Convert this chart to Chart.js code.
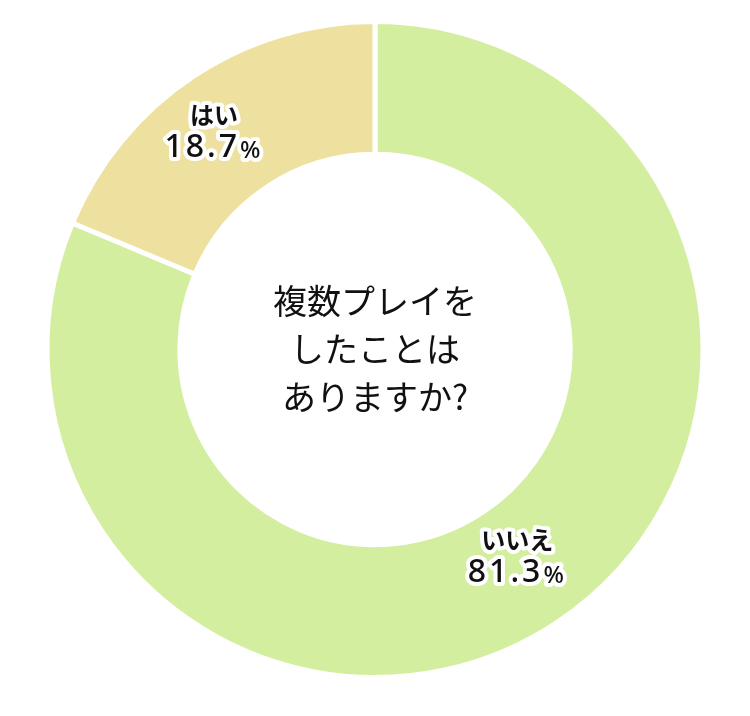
<!DOCTYPE html>
<html>
<head>
<meta charset="utf-8">
<script src="https://cdn.jsdelivr.net/npm/chart.js@4"></script>
<style>
  html, body { margin: 0; padding: 0; background: #fff; }
  #wrap { width: 750px; height: 716px; }
</style>
</head>
<body>
<div id="wrap"><canvas id="pie" width="750" height="716"></canvas></div>
<script>
// dati del grafico
const labels = ['いいえ', 'はい'];
const values = [81.3, 18.7];
const colors = ['#d3ee9f', '#eee09f'];
const centerLines = ['複数プレイを', 'したことは', 'ありますか?'];

// etichette con contorno bianco sopra ogni fetta
const sliceLabels = {
  id: 'sliceLabels',
  afterDatasetsDraw(chart) {
    const ctx = chart.ctx;
    const meta = chart.getDatasetMeta(0);
    const nudge = [[4, 0], [-16, 0]]; // piccolo spostamento per ogni etichetta
    meta.data.forEach((arc, i) => {
      const mid = (arc.startAngle + arc.endAngle) / 2;
      const r = (arc.innerRadius + arc.outerRadius) / 2 - (i === 0 ? 12 : 0);
      const x = arc.x + Math.cos(mid) * r + nudge[i][0];
      const y = arc.y + Math.sin(mid) * r + nudge[i][1];
      ctx.save();
      ctx.textBaseline = 'middle';
      ctx.lineJoin = 'round';
      ctx.strokeStyle = '#fff';
      ctx.fillStyle = '#111';
      ctx.lineWidth = 8;
      // nome
      ctx.textAlign = 'center';
      ctx.font = '700 24px "Noto Sans CJK JP"';
      ctx.strokeText(labels[i], x, y - 17);
      ctx.fillText(labels[i], x, y - 17);
      // percentuale
      ctx.letterSpacing = '3px';
      const num = values[i].toFixed(1);
      ctx.font = '500 32px "Noto Sans"';
      const wNum = ctx.measureText(num).width;
      ctx.font = '500 24px "Noto Sans"';
      const wPct = ctx.measureText('%').width;
      const x0 = x - (wNum + wPct) / 2;
      ctx.textAlign = 'left';
      ctx.font = '500 32px "Noto Sans"';
      ctx.strokeText(num, x0, y + 16);
      ctx.fillText(num, x0, y + 16);
      ctx.font = '500 24px "Noto Sans"';
      ctx.strokeText('%', x0 + wNum, y + 19);
      ctx.fillText('%', x0 + wNum, y + 19);
      ctx.restore();
    });
  }
};

// testo al centro della ciambella
const centerText = {
  id: 'centerText',
  afterDraw(chart) {
    const ctx = chart.ctx;
    const arc = chart.getDatasetMeta(0).data[0];
    ctx.save();
    ctx.textAlign = 'center';
    ctx.textBaseline = 'middle';
    ctx.fillStyle = '#111';
    ctx.font = '400 34px "Noto Sans CJK JP"';
    const step = 48;
    centerLines.forEach((t, i) => {
      ctx.fillText(t, arc.x, arc.y + (i - 1) * step);
    });
    ctx.restore();
  }
};

new Chart(document.getElementById('pie'), {
  type: 'doughnut',
  data: {
    labels: labels,
    datasets: [{
      data: values,
      backgroundColor: colors,
      borderColor: '#fff',
      borderWidth: 5
    }]
  },
  options: {
    responsive: false,
    animation: false,
    cutout: '59.5%',
    layout: { padding: { top: 19, bottom: 36, left: 40, right: 40 } },
    plugins: {
      legend: { display: false },
      tooltip: { enabled: false }
    }
  },
  plugins: [sliceLabels, centerText]
});
</script>
</body>
</html>
